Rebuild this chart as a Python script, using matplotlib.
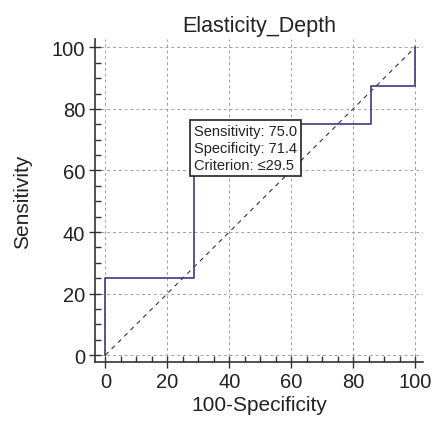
import matplotlib
matplotlib.use("Agg")
import matplotlib.pyplot as plt
from matplotlib.ticker import MultipleLocator

plt.rcParams['font.family'] = ['Liberation Sans', 'DejaVu Sans']

# ROC step points (100-Specificity, Sensitivity)
fpr = [0, 0, 28.6, 28.6, 85.7, 85.7, 100, 100]
tpr = [0, 25, 25, 75, 75, 87.5, 87.5, 100]
diag_x = [0, 100]
diag_y = [0, 100]
best_sens = 75.0
best_spec = 71.4
criterion = "\u226429.5"
title = "Elasticity_Depth"
xlabel = "100-Specificity"
ylabel = "Sensitivity"
ticks = [0, 20, 40, 60, 80, 100]

fig = plt.figure(figsize=(4.33, 4.31), dpi=100)
ax = fig.add_axes([0.219, 0.158, 0.758, 0.749])

ax.grid(True, which='major', color='#a0a0a0', linestyle=(0, (3, 3)), linewidth=0.7)
ax.set_axisbelow(True)
ax.plot(diag_x, diag_y, color='#333333', linestyle=(0, (4, 4)), linewidth=0.8)
ax.plot(fpr, tpr, color='#3c3c7c', linewidth=1.2)

ax.set_xlim(-3.4, 102.6)
ax.set_ylim(-2.2, 102.7)
ax.set_xticks(ticks)
ax.set_yticks(ticks)
ax.xaxis.set_minor_locator(MultipleLocator(5))
ax.yaxis.set_minor_locator(MultipleLocator(5))
ax.tick_params(which='major', direction='inout', length=8, width=1, labelsize=14.5,
               colors='#333333', labelcolor='#222222', pad=3)
ax.tick_params(which='minor', direction='in', length=4, width=1, colors='#333333')
for s in ['top', 'right']:
    ax.spines[s].set_visible(False)
for s in ['left', 'bottom']:
    ax.spines[s].set_color('#333333')
    ax.spines[s].set_linewidth(1.2)

ax.set_title(title, fontsize=15.5, color='#222222', pad=6)
ax.set_xlabel(xlabel, fontsize=15, color='#222222', labelpad=3)
ax.set_ylabel(ylabel, fontsize=15, color='#222222', labelpad=14)

txt = "Sensitivity: %.1f\nSpecificity: %.1f\nCriterion: %s" % (best_sens, best_spec, criterion)
ax.text(100 - best_spec, best_sens, txt, fontsize=10.5, va='top', ha='left', color='#222222',
        linespacing=1.25,
        bbox=dict(boxstyle='square,pad=0.3', facecolor='white', edgecolor='#222222', linewidth=1.2),
        zorder=5)

fig.savefig('out.png', dpi=100)
